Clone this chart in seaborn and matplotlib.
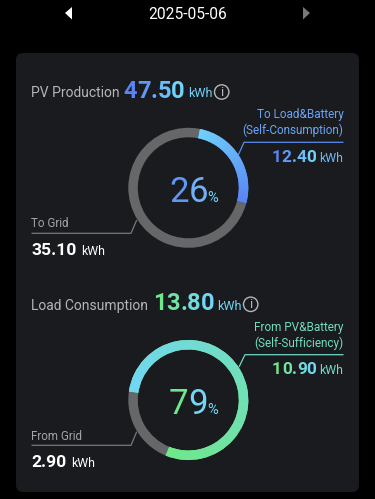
import numpy as np
import seaborn as sns
import matplotlib
matplotlib.use("Agg")
import matplotlib.pyplot as plt
from matplotlib.patches import FancyBboxPatch, Circle, Polygon

# --- Data ---
date_label = "2025-05-06"
pv_total = "47.50"
pv_used = 12.40
pv_grid = 35.10
pv_percent = "26"
load_total = "13.80"
load_self = 10.90
load_grid = 2.90
load_percent = "79"

W, H = 375, 499
BLUE, SKY = "#5a84f5", "#6fd3fb"
GREEN, AQUA = "#6fe88a", "#72d6f5"
GRAY = "#666769"

sns.set_theme(style="dark")
plt.rcParams["font.family"] = ["Roboto", "DejaVu Sans"]

fig = plt.figure(figsize=(W / 100, H / 100), dpi=100, facecolor="black")
ax = fig.add_axes([0, 0, 1, 1])
ax.set_xlim(0, W)
ax.set_ylim(0, H)
ax.axis("off")


def Y(y):
    # screenshot pixels count from the top
    return H - y


def label(x, y, s, size, color, ha="left", weight="normal"):
    return ax.text(x, Y(y), s, fontsize=size, color=color, ha=ha, va="baseline", fontweight=weight)


def gradient_text(x, y, s, size, c1, c2, weight="bold"):
    # one text per character so the colour can run across the number
    colors = sns.blend_palette([c1, c2], n_colors=len(s))
    r = fig.canvas.get_renderer()
    for i, ch in enumerate(s):
        off = 0
        if i > 0:
            t = ax.text(0, 0, s[:i] + ch, fontsize=size, fontweight=weight)
            full = t.get_window_extent(r).width
            t.set_text(ch)
            off = full - t.get_window_extent(r).width
            t.remove()
        ax.text(x + off, Y(y), ch, fontsize=size, color=colors[i], fontweight=weight, va="baseline")


def ring(cx, cy, values, start, c1, c2):
    wedges, _ = ax.pie(
        values,
        center=(cx, Y(cy)),
        radius=60,
        startangle=start,
        counterclock=False,
        colors=[c2, GRAY],
        frame=True,
        wedgeprops=dict(width=9.5, linewidth=0),
    )
    # conic colour fill along the coloured arc, clipped to its wedge
    span = 360 * values[0] / sum(values)
    gx, gy = np.meshgrid(np.linspace(cx - 62, cx + 62, 300), np.linspace(Y(cy) - 62, Y(cy) + 62, 300))
    ang = (start - np.degrees(np.arctan2(gy - Y(cy), gx - cx))) % 360
    cmap = sns.blend_palette([c1, c2], as_cmap=True)
    im = ax.imshow(
        np.clip(ang / span, 0, 1),
        cmap=cmap,
        origin="lower",
        extent=(cx - 62, cx + 62, Y(cy) - 62, Y(cy) + 62),
        vmin=0,
        vmax=1,
        zorder=2,
    )
    im.set_clip_path(wedges[0])


def leader(points, color):
    xs, ys = zip(*points)
    ax.plot(xs, [Y(v) for v in ys], color=color, lw=0.9, solid_capstyle="butt", zorder=3)


def info_icon(x, y):
    ax.add_patch(Circle((x, Y(y)), 7.2, fill=False, ec="#b5b6b8", lw=1.0))
    ax.text(x, Y(y) - 0.3, "i", fontsize=9.5, color="#b5b6b8", ha="center", va="center")


# --- Header ---
label(187.5, 19, date_label, 11.2, "white", ha="center")
ax.add_patch(Polygon([(72, Y(7)), (72, Y(19.5)), (65, Y(13))], fc="white", ec="none"))
ax.add_patch(Polygon([(303, Y(7)), (303, Y(19.5)), (310, Y(13))], fc="#77787a", ec="none"))

# --- Card ---
ax.add_patch(
    FancyBboxPatch(
        (23, Y(485)), 329, 425, boxstyle="round,pad=7,rounding_size=7", fc="#1a1b1e", ec="none", zorder=0
    )
)

# --- PV Production ---
label(31, 97, "PV Production", 10, "#b4b5b7")
gradient_text(123.5, 97.5, pv_total, 17, BLUE, SKY)
label(188.5, 97, "kWh", 9, SKY)
info_icon(221.7, 92)

ring(188.3, 187.8, [pv_used, pv_grid], 79, SKY, BLUE)
gradient_text(169, 201.7, pv_percent, 25, "#5f96f7", "#6fb0f9", weight="normal")
gradient_text(207.5, 201.7, "%", 10.5, SKY, SKY, weight="normal")

label(343.5, 118, "To Load&Battery", 8.5, "#6ba4f6", ha="right")
label(343.5, 134, "(Self-Consumption)", 8.5, "#6ba4f6", ha="right")
leader([(238.3, 155), (244, 142.3), (343.5, 142.3)], "#5a8cf0")
gradient_text(272, 161.7, f"{pv_used:.2f}", 12.4, BLUE, SKY)
label(343.5, 161.7, "kWh", 8.8, "#6fb8f5", ha="right")

label(31, 227, "To Grid", 8.4, "#a3a4a6")
leader([(31.5, 233.3), (131, 233.3), (136.7, 220)], "#77787a")
label(31, 255, f"{pv_grid:.2f}", 12.6, "white", weight="bold")
label(80.7, 255, "kWh", 8.8, "white")

# --- Load Consumption ---
label(31, 310, "Load Consumption", 10, "#b4b5b7")
gradient_text(153, 310.5, load_total, 17, GREEN, AQUA)
label(217.2, 310, "kWh", 9, AQUA)
info_icon(250.7, 304.3)

ring(188.3, 400, [load_self, load_grid], 172, AQUA, GREEN)
gradient_text(168.5, 414, load_percent, 25, GREEN, AQUA, weight="normal")
gradient_text(207.5, 414, "%", 10.5, AQUA, AQUA, weight="normal")

label(343.5, 330.7, "From PV&Battery", 8.5, "#72dcc0", ha="right")
label(343.5, 346.7, "(Self-Sufficiency)", 8.5, "#72dcc0", ha="right")
leader([(239, 367), (245, 354.7), (343.5, 354.7)], "#72d8c8")
gradient_text(272, 374.3, f"{load_self:.2f}", 12.4, GREEN, AQUA)
label(343.5, 374.3, "kWh", 8.8, "#72dcc8", ha="right")

label(31, 439.7, "From Grid", 8.4, "#a3a4a6")
leader([(31.5, 445.3), (131, 445.3), (136.7, 431.7)], "#77787a")
label(31, 467.3, f"{load_grid:.2f}", 12.6, "white", weight="bold")
label(70.7, 467.3, "kWh", 8.8, "white")

ax.set_xlim(0, W)
ax.set_ylim(0, H)
ax.set_aspect("auto")
ax.axis("off")
fig.savefig("out.png", dpi=100, facecolor="black")
